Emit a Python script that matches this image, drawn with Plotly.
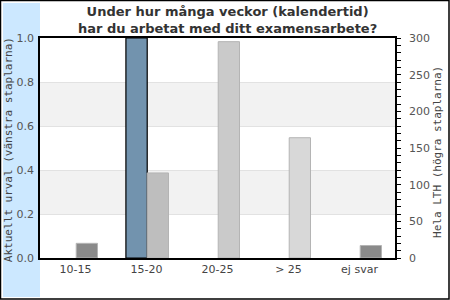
import plotly.graph_objects as go

categories = ["10-15", "15-20", "20-25", "> 25", "ej svar"]
urval_values = [0, 1.0, 0, 0, 0]
lth_values = [20, 116, 295, 164, 17]
lth_colors = ["#8a8a8a", "#bebebe", "#cacaca", "#d8d8d8", "#8a8a8a"]
left_ticks = [0.0, 0.2, 0.4, 0.6, 0.8, 1.0]
right_ticks = [0, 50, 100, 150, 200, 250, 300]
title_text = "Under hur många veckor (kalendertid)<br>har du arbetat med ditt examensarbete?"

W, H = 450, 300
ML, MR, MT, MB = 40, 55, 38, 42
PW, PH = W - ML - MR, H - MT - MB

def px(x):
    return (x - ML) / PW

def py(y):
    return (H - MB - y) / PH

fig = go.Figure()
fig.add_trace(go.Bar(
    x=categories, y=urval_values, yaxis="y", width=0.3, offset=-0.29,
    marker=dict(color="#7293ae",
                line=dict(color="black", width=[1.2 if v > 0 else 0 for v in urval_values])),
    showlegend=False, hoverinfo="x+y",
))
fig.add_trace(go.Bar(
    x=categories, y=lth_values, yaxis="y2", width=0.3, offset=0.01,
    marker=dict(color=lth_colors, line=dict(color="#b4b4b4", width=1)),
    showlegend=False, hoverinfo="x+y",
))

shapes = [
    dict(type="rect", xref="paper", yref="paper", x0=px(3), x1=px(40), y0=py(297), y1=py(3),
         fillcolor="#cce8ff", line=dict(width=0), layer="below"),
    dict(type="rect", xref="paper", yref="paper", x0=px(0.5), x1=px(449), y0=py(299), y1=py(0.5),
         fillcolor="rgba(0,0,0,0)", line=dict(color="black", width=1.5)),
]
for lo, hi in [(0.2, 0.4), (0.6, 0.8)]:
    shapes.append(dict(type="rect", xref="paper", yref="y", x0=0, x1=1, y0=lo, y1=hi,
                       fillcolor="#f2f2f2", line=dict(width=0), layer="below"))

fig.update_layout(
    width=W, height=H,
    margin=dict(l=ML, r=MR, t=MT, b=MB, pad=0),
    paper_bgcolor="white", plot_bgcolor="rgba(0,0,0,0)",
    font=dict(family="DejaVu Sans", size=11, color="#444"),
    barmode="overlay",
    xaxis=dict(type="category", showline=True, linecolor="black", linewidth=1.5, mirror=True,
               ticks="", showgrid=False, tickfont=dict(size=11, color="#444"), fixedrange=True),
    yaxis=dict(range=[0, 1], tickvals=left_ticks, tickformat=".1f", showline=True, linecolor="black",
               linewidth=1.5, ticks="", showgrid=True, gridcolor="#e2e2e2", gridwidth=1,
               zeroline=False, tickfont=dict(size=11, color="#555"), ticklabelstandoff=2),
    yaxis2=dict(range=[0, 300], tickvals=right_ticks, overlaying="y", side="right", showline=True,
                linecolor="black", linewidth=1.5, ticks="outside", ticklen=4, tickcolor="black",
                minor=dict(dtick=10, ticks="outside", ticklen=4, tickcolor="black"),
                showgrid=False, zeroline=False, tickfont=dict(size=11, color="#555"),
                ticklabelstandoff=6),
    shapes=shapes,
    annotations=[
        dict(text="<b>" + title_text + "</b>", xref="paper", yref="paper", x=px(227), y=py(2),
             xanchor="center", yanchor="top", showarrow=False,
             font=dict(family="DejaVu Sans", size=13, color="#333")),
        dict(text="Aktuellt urval (vänstra staplarna)", xref="paper", yref="paper", x=px(8), y=0.49,
             xanchor="center", yanchor="middle", textangle=-90, showarrow=False,
             font=dict(family="DejaVu Sans Mono", size=11, color="#444")),
        dict(text="Hela LTH (högra staplarna)", xref="paper", yref="paper", x=px(438), y=0.482,
             xanchor="center", yanchor="middle", textangle=-90, showarrow=False,
             font=dict(family="DejaVu Sans Mono", size=11, color="#444")),
    ],
)

fig.write_html("out.html")
